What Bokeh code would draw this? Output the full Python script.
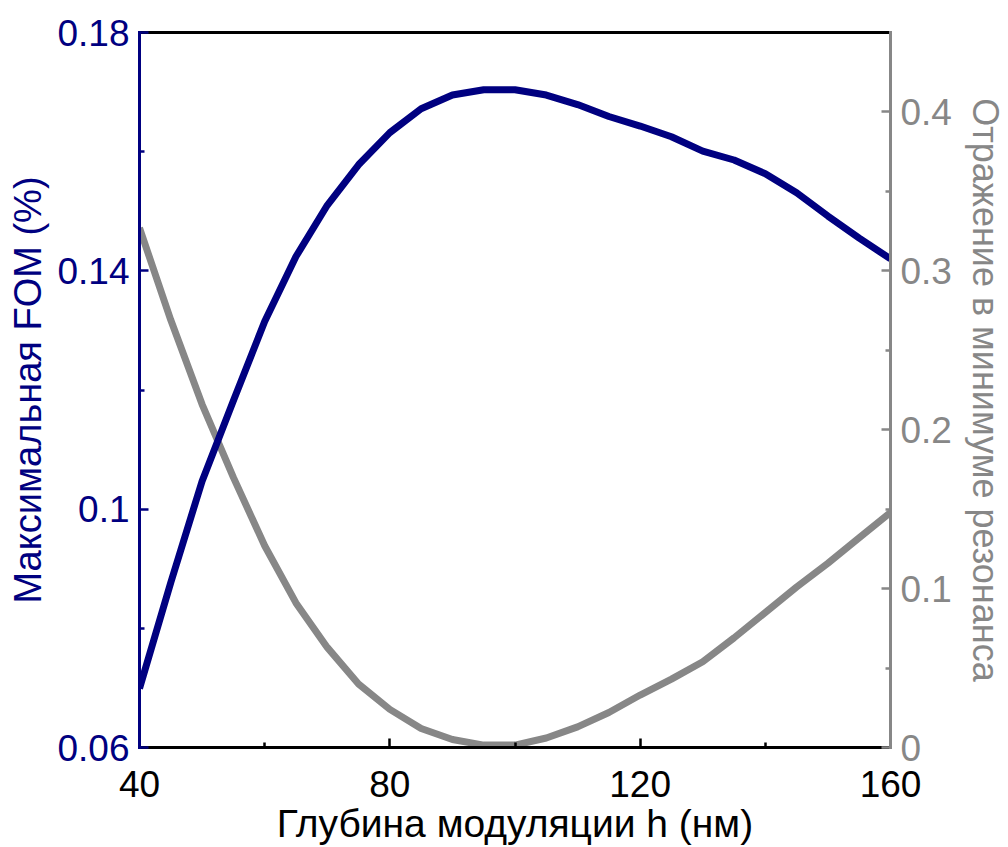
from bokeh.plotting import figure
from bokeh.models import LinearAxis, Range1d, FixedTicker, CustomJSTickFormatter
from bokeh.embed import file_html
from bokeh.resources import INLINE

# Data
depth_nm = [40, 45, 50, 55, 60, 65, 70, 75, 80, 85, 90, 95, 100,
            105, 110, 115, 120, 125, 130, 135, 140, 145, 150, 155, 160]
max_fom = [0.0699, 0.0877, 0.1047, 0.1182, 0.1315, 0.1424, 0.1510, 0.1578,
           0.1632, 0.1672, 0.1695, 0.1704, 0.1704, 0.1695, 0.1679, 0.1659,
           0.1643, 0.1625, 0.1601, 0.1586, 0.1563, 0.1531, 0.1492, 0.1455, 0.1420]
min_reflection = [0.327, 0.269, 0.216, 0.170, 0.127, 0.091, 0.063, 0.040,
                  0.024, 0.012, 0.005, 0.0015, 0.0015, 0.006, 0.013, 0.022,
                  0.033, 0.043, 0.054, 0.069, 0.085, 0.101, 0.116, 0.132, 0.148]

x_ticks = [40, 80, 120, 160]
x_minor = [60, 100, 140]
fom_ticks = [0.06, 0.1, 0.14, 0.18]
fom_minor = [0.08, 0.12, 0.16]
refl_ticks = [0, 0.1, 0.2, 0.3, 0.4]
refl_minor = [0.05, 0.15, 0.25, 0.35]

NAVY = "#000080"
GRAY = "#878787"
FONT = "Liberation Sans"
TICK_FS = "37px"

p = figure(width=1008, height=847, output_backend="svg", toolbar_location=None,
           x_range=Range1d(40, 160), y_range=Range1d(0.06, 0.18),
           x_axis_location=None, y_axis_location=None,
           min_border_left=139, min_border_right=118,
           min_border_top=32, min_border_bottom=100)
p.extra_y_ranges = {"refl": Range1d(0, 0.45)}
p.grid.visible = False
p.outline_line_color = None
p.background_fill_color = "white"
p.border_fill_color = "white"

fmt = CustomJSTickFormatter(code="return String(Math.round(tick*1000)/1000);")


def style(ax, color, label_fs="38px"):
    ax.axis_line_color = color
    ax.axis_line_width = 3
    ax.axis_line_cap = "square"
    ax.major_tick_line_color = color
    ax.minor_tick_line_color = color
    ax.major_tick_line_width = 2.5
    ax.minor_tick_line_width = 2.5
    ax.major_tick_in = 9
    ax.major_tick_out = 0
    ax.minor_tick_in = 5
    ax.minor_tick_out = 0
    ax.major_label_text_color = color
    ax.major_label_text_font = FONT
    ax.major_label_text_font_size = TICK_FS
    ax.axis_label_text_color = color
    ax.axis_label_text_font = FONT
    ax.axis_label_text_font_size = label_fs
    ax.axis_label_text_font_style = "normal"


left = LinearAxis(ticker=FixedTicker(ticks=fom_ticks, minor_ticks=fom_minor),
                  formatter=fmt, axis_label="Максимальная FOM (%)")
style(left, NAVY, "38px")
left.major_label_standoff = 10
left.axis_label_standoff = 5
p.add_layout(left, "left")

bottom = LinearAxis(ticker=FixedTicker(ticks=x_ticks, minor_ticks=x_minor),
                    axis_label="Глубина модуляции h (нм)")
style(bottom, "black", "39px")
bottom.major_label_standoff = 23
bottom.axis_label_standoff = 2
p.add_layout(bottom, "below")

right = LinearAxis(y_range_name="refl",
                   ticker=FixedTicker(ticks=refl_ticks, minor_ticks=refl_minor),
                   formatter=fmt, axis_label="Отражение в минимуме резонанса")
style(right, GRAY, "36px")
right.major_label_standoff = 10
right.axis_label_standoff = 10
p.add_layout(right, "right")

top = LinearAxis(ticker=FixedTicker(ticks=[], minor_ticks=[]))
style(top, "black")
top.major_tick_line_color = None
top.minor_tick_line_color = None
top.major_label_text_font_size = "0px"
p.add_layout(top, "above")

p.line(depth_nm, min_reflection, y_range_name="refl", line_color=GRAY, line_width=7)
p.line(depth_nm, max_fom, line_color=NAVY, line_width=7)

open("out.html", "w").write(file_html(p, INLINE))
